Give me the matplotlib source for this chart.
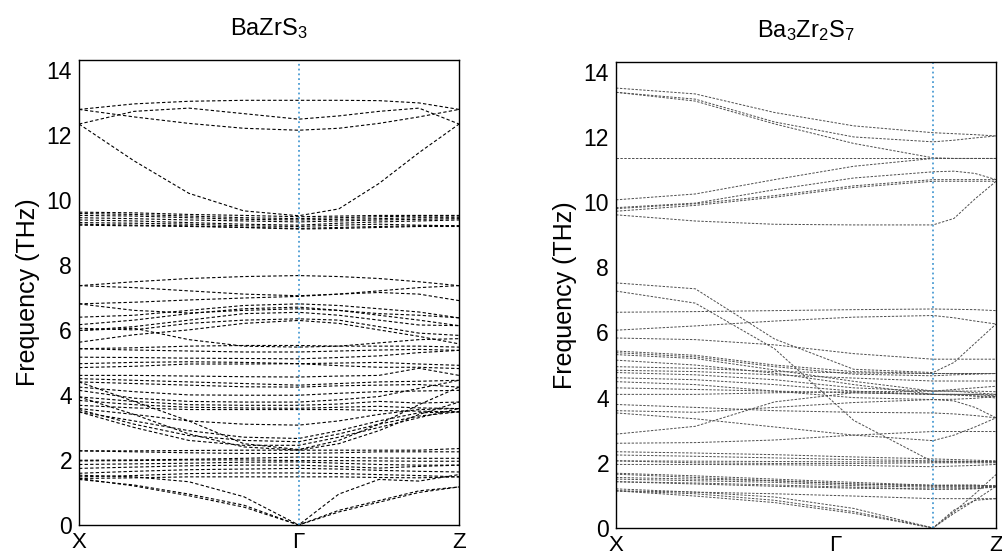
import numpy as np
import matplotlib
matplotlib.use("Agg")
import matplotlib.pyplot as plt

plt.rcParams["font.family"] = ["Liberation Sans", "DejaVu Sans"]
plt.rcParams["mathtext.default"] = "regular"

# high-symmetry labels (ticks of the X-G-Z path)
path_labels = ["X", "Γ", "Z"]
gamma_bzs = 0.578   # position of Gamma along the BaZrS3 path
gamma_b327 = 0.834  # position of Gamma along the Ba3Zr2S7 path

# ---- BaZrS3 bands: X, 1/4, 1/2, 3/4, G, 1/4, 1/2, 3/4, Z ----
bzs_high = [
    [12.78, 12.95, 13.03, 13.06, 13.06, 13.06, 13.05, 12.98, 12.78],
    [12.33, 12.72, 12.82, 12.65, 12.48, 12.58, 12.72, 12.82, 12.33],
    [12.78, 12.55, 12.35, 12.20, 12.14, 12.20, 12.35, 12.55, 12.78],
    [12.33, 11.20, 10.20, 9.66, 9.51, 9.72, 10.50, 11.45, 12.33],
    [9.62, 9.60, 9.55, 9.52, 9.48, 9.50, 9.52, 9.52, 9.52],
    [9.58, 9.55, 9.50, 9.45, 9.42, 9.45, 9.48, 9.50, 9.50],
    [9.52, 9.50, 9.45, 9.40, 9.38, 9.40, 9.42, 9.45, 9.45],
    [9.45, 9.42, 9.38, 9.35, 9.32, 9.35, 9.38, 9.40, 9.42],
    [9.38, 9.35, 9.30, 9.25, 9.22, 9.28, 9.32, 9.35, 9.38],
    [9.30, 9.28, 9.25, 9.20, 9.18, 9.22, 9.25, 9.22, 9.20],
    [9.25, 9.22, 9.20, 9.15, 9.12, 9.15, 9.18, 9.20, 9.20],
    [9.22, 9.20, 9.18, 9.15, 9.10, 9.12, 9.15, 9.18, 9.18],
]
bzs_mid = [
    [7.36, 7.48, 7.58, 7.64, 7.67, 7.64, 7.58, 7.48, 7.36],
    [7.36, 7.30, 7.20, 7.10, 7.05, 7.10, 7.20, 7.30, 7.36],
    [6.80, 6.85, 6.92, 6.98, 7.03, 7.10, 7.15, 7.10, 6.90],
    [6.80, 6.60, 6.52, 6.60, 6.65, 6.60, 6.50, 6.45, 6.37],
    [6.39, 6.45, 6.60, 6.75, 6.80, 6.75, 6.65, 6.55, 6.37],
    [6.16, 6.30, 6.50, 6.65, 6.70, 6.60, 6.45, 6.30, 6.13],
    [5.98, 6.10, 6.30, 6.50, 6.54, 6.45, 6.30, 6.15, 6.13],
    [6.05, 6.00, 6.20, 6.30, 6.34, 6.30, 6.10, 5.90, 5.83],
    [5.98, 6.05, 5.70, 5.50, 5.47, 5.50, 5.60, 5.70, 5.73],
    [5.62, 5.85, 6.00, 6.20, 6.29, 6.20, 6.00, 5.80, 5.57],
    [5.42, 5.45, 5.50, 5.52, 5.52, 5.50, 5.50, 5.50, 5.47],
    [5.42, 5.38, 5.35, 5.32, 5.32, 5.35, 5.38, 5.40, 5.37],
    [5.16, 5.15, 5.13, 5.12, 5.11, 5.15, 5.20, 5.30, 5.37],
    [4.96, 5.00, 5.02, 5.00, 4.96, 4.98, 5.00, 4.95, 4.91],
    [4.84, 4.88, 4.95, 4.95, 4.96, 4.90, 4.85, 4.85, 4.81],
    [4.60, 4.60, 4.58, 4.56, 4.55, 4.58, 4.60, 4.82, 4.60],
    [4.50, 4.45, 4.40, 4.35, 4.30, 4.35, 4.40, 4.42, 4.45],
    [4.40, 4.35, 4.30, 4.25, 4.24, 4.28, 4.30, 4.32, 4.24],
    [4.24, 4.10, 4.00, 3.99, 3.99, 4.05, 4.10, 4.12, 4.14],
    [4.14, 3.90, 3.80, 3.78, 3.78, 3.85, 3.95, 4.20, 4.45],
    [3.94, 3.80, 3.70, 3.68, 3.68, 3.72, 3.80, 3.75, 3.78],
    [3.83, 3.70, 3.62, 3.60, 3.59, 3.62, 3.65, 3.60, 3.58],
    [3.68, 3.60, 3.55, 3.55, 3.55, 3.55, 3.52, 3.50, 3.48],
    [3.58, 3.40, 3.20, 3.10, 3.07, 3.20, 3.40, 3.55, 3.58],
    [3.48, 3.20, 2.90, 2.70, 2.66, 2.90, 3.20, 3.45, 3.48],
    [3.55, 3.10, 2.75, 2.60, 2.56, 2.80, 3.10, 3.35, 3.48],
    [3.48, 3.00, 2.60, 2.45, 2.45, 2.70, 3.00, 3.30, 3.58],
    [4.40, 3.80, 3.20, 2.50, 2.32, 2.60, 3.10, 3.70, 4.24],
    [3.94, 3.40, 2.80, 2.40, 2.30, 2.50, 2.90, 3.40, 3.78],
]
bzs_low = [
    [2.28, 2.28, 2.29, 2.30, 2.30, 2.30, 2.30, 2.30, 2.35],
    [2.28, 2.25, 2.22, 2.20, 2.20, 2.22, 2.25, 2.25, 2.25],
    [1.99, 2.00, 2.02, 2.05, 2.09, 2.08, 2.06, 2.05, 2.05],
    [1.97, 1.98, 2.00, 2.00, 1.98, 1.98, 1.97, 1.96, 1.96],
    [1.86, 1.88, 1.90, 1.93, 1.94, 1.90, 1.86, 1.84, 1.84],
    [1.74, 1.78, 1.82, 1.84, 1.84, 1.80, 1.75, 1.80, 1.84],
    [1.59, 1.65, 1.70, 1.72, 1.74, 1.72, 1.68, 1.65, 1.63],
    [1.48, 1.52, 1.58, 1.60, 1.60, 1.58, 1.55, 1.52, 1.48],
    [1.43, 1.45, 1.48, 1.48, 1.48, 1.48, 1.46, 1.45, 1.48],
]
bzs_acoustic = [
    [1.40, 1.23, 0.95, 0.61, 0.00, 0.95, 1.40, 1.35, 1.55],
    [1.53, 1.48, 1.33, 0.87, 0.00, 0.45, 0.75, 1.05, 1.17],
    [1.43, 1.20, 0.90, 0.55, 0.00, 0.40, 0.70, 1.00, 1.17],
]

# ---- Ba3Zr2S7 bands: X, 1/4, 1/2, 3/4, G, 1/3, 2/3, Z ----
b327_high = [
    [13.50, 13.32, 12.75, 12.34, 12.13, 12.10, 12.07, 12.03],
    [13.37, 13.16, 12.46, 12.00, 11.85, 11.90, 11.97, 12.03],
    [13.37, 13.10, 12.40, 11.80, 11.36, 11.34, 11.34, 11.34],
    [11.34, 11.34, 11.34, 11.34, 11.34, 11.34, 11.34, 11.34],
    [10.07, 10.25, 10.69, 11.10, 11.34, 11.34, 11.34, 11.34],
    [9.83, 9.97, 10.38, 10.74, 10.93, 10.95, 10.88, 10.69],
    [9.80, 9.95, 10.20, 10.50, 10.69, 10.69, 10.69, 10.69],
    [9.72, 9.90, 10.15, 10.45, 10.64, 10.64, 10.64, 10.64],
    [9.61, 9.42, 9.32, 9.30, 9.30, 9.50, 10.10, 10.64],
]
b327_mid = [
    [7.52, 7.34, 5.80, 4.87, 4.77, 5.08, 5.67, 6.26],
    [7.27, 6.90, 5.50, 3.30, 2.03, 2.03, 2.03, 2.03],
    [6.62, 6.64, 6.67, 6.70, 6.72, 6.71, 6.70, 6.67],
    [6.07, 6.20, 6.35, 6.47, 6.52, 6.45, 6.35, 6.26],
    [5.83, 5.78, 5.62, 5.35, 5.18, 5.18, 5.18, 5.18],
    [5.43, 5.30, 5.00, 4.80, 4.74, 4.74, 4.74, 4.74],
    [5.38, 5.25, 4.95, 4.72, 4.67, 4.70, 4.72, 4.74],
    [5.32, 5.20, 4.85, 4.50, 4.20, 4.20, 4.15, 4.10],
    [5.15, 5.00, 4.75, 4.40, 4.10, 4.10, 4.10, 4.05],
    [4.95, 4.90, 4.80, 4.76, 4.74, 4.74, 4.74, 4.74],
    [4.84, 4.80, 4.70, 4.60, 4.51, 4.51, 4.51, 4.51],
    [4.77, 4.70, 4.55, 4.30, 4.20, 4.25, 4.30, 4.35],
    [4.61, 4.55, 4.40, 4.20, 4.10, 4.10, 4.05, 3.99],
    [4.49, 4.40, 4.20, 4.00, 3.94, 3.95, 3.98, 4.04],
    [4.30, 4.25, 4.20, 4.15, 4.10, 4.10, 4.10, 4.10],
    [4.10, 4.10, 4.15, 4.18, 4.20, 4.20, 4.20, 4.18],
    [3.79, 3.70, 3.60, 3.55, 3.53, 3.50, 3.45, 3.38],
    [3.60, 3.55, 3.70, 3.85, 3.94, 3.90, 3.70, 3.38],
    [3.53, 3.35, 3.10, 2.85, 2.68, 2.85, 3.10, 3.38],
    [2.88, 3.12, 3.87, 4.15, 4.10, 4.08, 4.05, 4.04],
    [2.60, 2.62, 2.70, 2.85, 2.96, 2.96, 2.96, 2.96],
]
b327_low = [
    [2.34, 2.30, 2.25, 2.18, 2.12, 2.10, 2.08, 2.06],
    [2.24, 2.20, 2.15, 2.10, 2.06, 2.05, 2.04, 2.03],
    [2.06, 2.05, 2.04, 2.03, 2.03, 2.03, 2.03, 2.03],
    [1.95, 1.95, 1.94, 1.92, 1.88, 1.90, 1.92, 1.95],
    [2.06, 2.00, 1.98, 1.98, 2.00, 2.00, 2.00, 2.00],
    [1.68, 1.60, 1.50, 1.40, 1.31, 1.32, 1.32, 1.28],
    [1.65, 1.55, 1.45, 1.35, 1.28, 1.28, 1.28, 1.28],
    [1.55, 1.50, 1.45, 1.35, 1.31, 1.30, 1.30, 1.30],
    [1.50, 1.45, 1.40, 1.30, 1.25, 1.25, 1.25, 1.28],
    [1.42, 1.38, 1.32, 1.25, 1.19, 1.19, 1.20, 1.28],
    [1.42, 1.35, 1.28, 1.22, 1.19, 1.20, 1.22, 1.25],
    [1.14, 1.10, 1.05, 0.98, 0.90, 0.90, 0.90, 0.90],
]
b327_acoustic = [
    [1.14, 0.98, 0.78, 0.45, 0.00, 0.55, 0.85, 0.90],
    [1.14, 1.05, 0.85, 0.50, 0.00, 0.50, 1.05, 1.64],
    [1.20, 1.10, 0.95, 0.60, 0.00, 0.45, 0.85, 1.28],
]

# k coordinates of the sampled points along each path
k_bzs = np.concatenate([np.linspace(0, gamma_bzs, 5), np.linspace(gamma_bzs, 1, 5)[1:]])
k_b327 = np.concatenate([np.linspace(0, gamma_b327, 5), np.linspace(gamma_b327, 1, 4)[1:]])

fig = plt.figure(figsize=(10.03, 5.56), dpi=100)
ax1 = fig.add_axes([0.0788, 0.0558, 0.3789, 0.8363])
ax2 = fig.add_axes([0.6142, 0.0504, 0.3789, 0.8381])

for band in bzs_high + bzs_mid + bzs_low + bzs_acoustic:
    ax1.plot(k_bzs, band, color="black", lw=0.8, ls=(0, (3, 2)))
for band in b327_high + b327_mid + b327_low + b327_acoustic:
    ax2.plot(k_b327, band, color="0.3", lw=0.7, ls=(0, (2.5, 1.5)))

ax1.axvline(gamma_bzs, color="#4b9cd3", lw=1.3, ls=":")
ax2.axvline(gamma_b327, color="#4b9cd3", lw=1.3, ls=":")

for ax, title in [(ax1, "BaZrS$_3$"), (ax2, "Ba$_3$Zr$_2$S$_7$")]:
    ax.set_xlim(0, 1)
    ax.set_ylim(0, 14.3)
    ax.set_yticks([0, 2, 4, 6, 8, 10, 12, 14])
    # same tick positions on both panels
    ax.set_xticks([0, gamma_bzs, 1])
    ax.set_xticklabels(path_labels)
    ax.tick_params(axis="x", length=0, pad=5, labelsize=16)
    ax.tick_params(axis="y", length=0, pad=5, labelsize=16.5)
    ax.set_ylabel("Frequency (THz)", fontsize=18, labelpad=5)
    ax.set_title(title, fontsize=17, pad=18)
    for s in ax.spines.values():
        s.set_linewidth(1.0)

fig.savefig("out.png", dpi=100)
